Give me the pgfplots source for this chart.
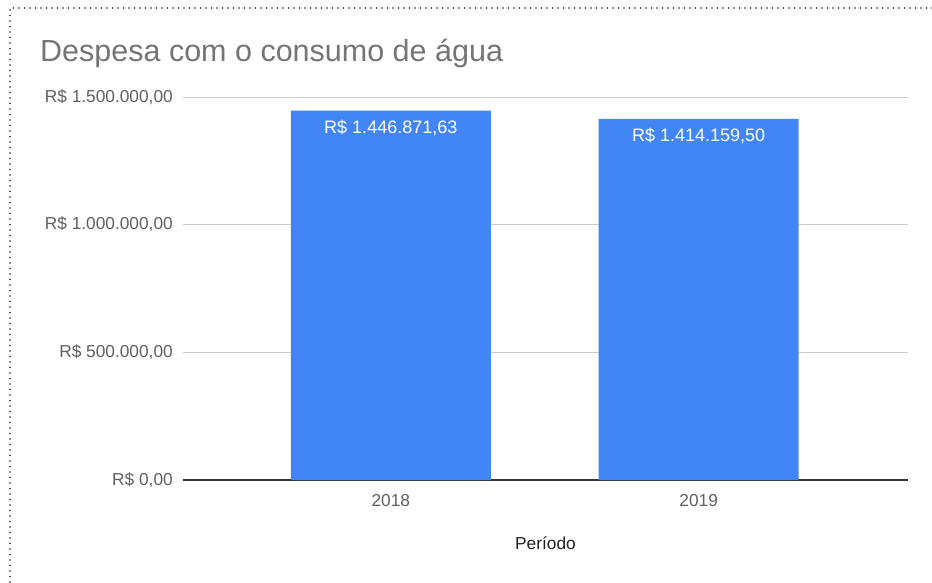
\documentclass[border=0pt]{standalone}
\usepackage{pgfplots}
\pgfplotsset{compat=1.18}
\usepackage{fontspec}
\setmainfont{Liberation Sans}
\definecolor{barblue}{HTML}{4285F4}
\definecolor{titlegray}{HTML}{757575}
\definecolor{tickgray}{HTML}{616161}
\definecolor{gridgray}{HTML}{CCCCCC}
\definecolor{labeldark}{HTML}{222222}
\begin{document}
\begin{tikzpicture}
\useasboundingbox (0,0) rectangle (932pt,582pt);
\fill[white] (0,0) rectangle (932pt,582pt);
\draw[black!85, line width=1.7pt, dash pattern=on 0pt off 5.5pt, line cap=round] (10pt,0) -- (10pt,574pt) -- (932pt,574pt);
\node[anchor=base west, text=titlegray, font=\fontsize{30.5}{36}\selectfont, inner sep=0pt] at (40pt,520pt) {Despesa com o consumo de água};
\begin{axis}[
  at={(183pt,102pt)}, anchor=south west,
  scale only axis, width=725pt, height=383pt,
  xmin=-0.675, xmax=1.68, ymin=0, ymax=1500000,
  enlargelimits=false, clip=false,
  scaled y ticks=false,
  axis lines*=left,
  y axis line style={draw=none},
  x axis line style={draw=black!80, line width=1.2pt, -},
  tick style={draw=none},
  ymajorgrids, grid style={gridgray, line width=0.8pt},
  xtick={0,1}, xticklabels={2018,2019},
  ytick={0,500000,1000000,1500000},
  yticklabels={{R\$ 0,00},{R\$ 500.000,00},{R\$ 1.000.000,00},{R\$ 1.500.000,00}},
  /pgf/number format/assume math mode=true,
  yticklabel style={anchor=east, inner sep=0pt, xshift=-10pt, text=tickgray, font=\fontsize{17.3}{20}\selectfont},
  xticklabel style={anchor=north, inner sep=0pt, yshift=-10pt, text=tickgray, font=\fontsize{17.3}{20}\selectfont},
  xlabel={Período},
  xlabel style={at={(axis description cs:0.5,0)}, anchor=north, inner sep=0pt, yshift=-57pt, text=labeldark, font=\fontsize{17.3}{20}\selectfont},
  ybar, bar width=200pt,
]
\addplot[fill=barblue, draw=none,
  nodes near coords, point meta=explicit symbolic,
  every node near coord/.append style={anchor=north, inner sep=0pt, yshift=-9pt, text=white, font=\fontsize{18}{21}\selectfont}]
  coordinates {(0,1446871.63) [R\$ 1.446.871,63] (1,1414159.50) [R\$ 1.414.159,50]};
\end{axis}
\end{tikzpicture}
\end{document}
